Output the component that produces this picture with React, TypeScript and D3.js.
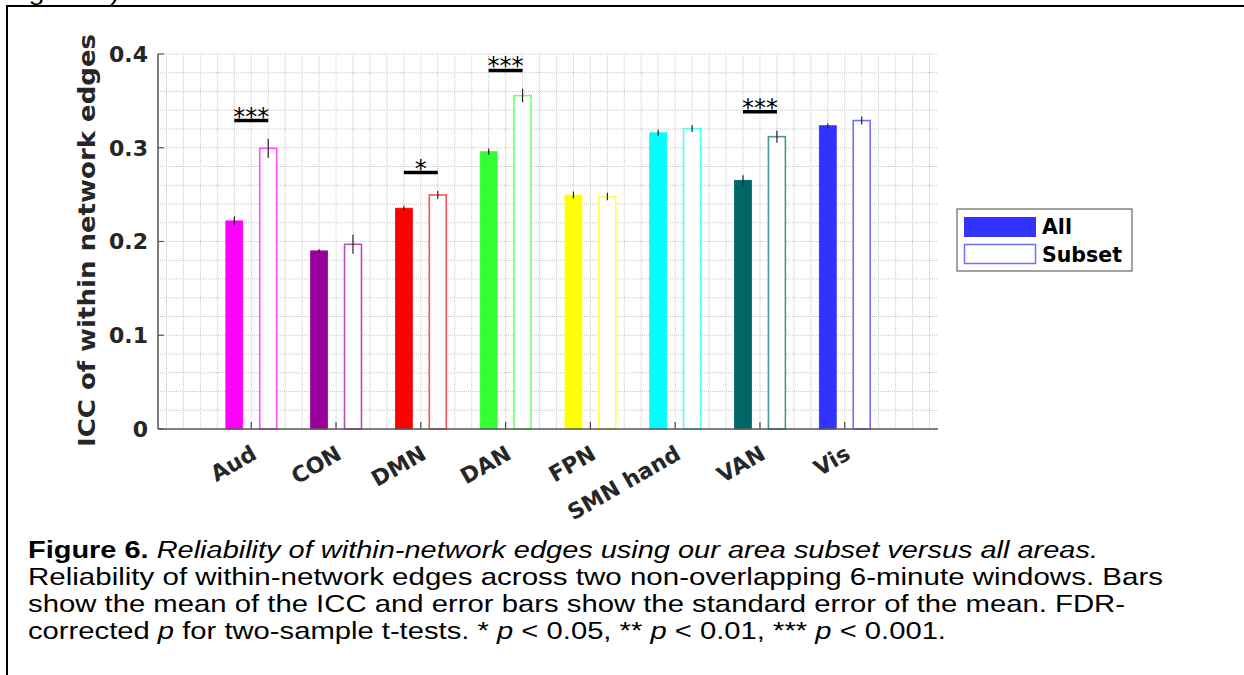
import React from "react";
import * as d3 from "d3";

const categories = ["Aud", "CON", "DMN", "DAN", "FPN", "SMN hand", "VAN", "Vis"];
const allMeans = [0.222, 0.19, 0.2355, 0.2958, 0.2496, 0.316, 0.2653, 0.3235];
const allSem = [0.0048, 0.0017, 0.0027, 0.0032, 0.0037, 0.0032, 0.0053, 0.0027];
const subsetMeans = [0.2994, 0.197, 0.2496, 0.3556, 0.248, 0.3204, 0.3118, 0.329];
const subsetSem = [0.0103, 0.0101, 0.0043, 0.0071, 0.004, 0.0037, 0.0064, 0.0043];
const colors = ["#ff00ff", "#990099", "#ff0000", "#33ff33", "#ffff00", "#00ffff", "#006666", "#3333ff"];
const sigCats = ["Aud", "DMN", "DAN", "VAN"];
const sigHeights = [0.329, 0.2735, 0.3825, 0.3385];
const sigLabels = ["***", "*", "***", "***"];
const yTicks = [0, 0.1, 0.2, 0.3, 0.4];
const legendLabels = ["All", "Subset"];

const W = 1244;
const H = 675;

export default function App() {
  const x = d3.scaleLinear().domain([-0.1, 9.1]).range([158, 938]);
  const y = d3.scaleLinear().domain([0, 0.4]).range([429, 54]);
  const pos = (i: number) => i + 1;
  const barW = x(0.2) - x(0);

  const vGrid = d3.range(0, 9.0001, 0.2);
  const hGrid = d3.range(0.02, 0.40001, 0.02);
  const tickFont = "'DejaVu Sans', sans-serif";
  const capFont = "'Liberation Sans', Arial, sans-serif";

  const mix = (c: string) => d3.interpolateRgb(c, "#ffffff")(0.3);
  const sx = 1.2;

  return (
    <svg width={W} height={H} style={{ position: "absolute", left: 0, top: 0, background: "#fff" }}>
      <rect x={0} y={0} width={W} height={H} fill="#fff" />
      {/* frame */}
      <g transform={`translate(22,0) scale(${sx},1)`}>
        <text x={0} y={0} fontFamily={capFont} fontSize={24} fill="#000">igure 6)</text>
      </g>
      <path d={`M7,${H} V6 H${W}`} fill="none" stroke="#000" strokeWidth={2} />

      {/* grid */}
      <g stroke="#c8c8c8" strokeWidth={1} strokeDasharray="1 1">
        {vGrid.map((v, i) => (
          <line key={"v" + i} x1={x(v)} x2={x(v)} y1={y(0.4)} y2={y(0)} />
        ))}
        {hGrid.map((v, i) => (
          <line key={"h" + i} x1={x(-0.1)} x2={x(9.1)} y1={y(v)} y2={y(v)} />
        ))}
      </g>

      {/* bars */}
      {categories.map((c, i) => {
        const cx = x(pos(i));
        const xa = x(pos(i) - 0.3);
        const xs = x(pos(i) + 0.1);
        return (
          <g key={c}>
            <rect x={xa} y={y(allMeans[i])} width={barW} height={y(0) - y(allMeans[i])}
              fill={colors[i]} stroke={colors[i]} strokeWidth={0.8} />
            <rect x={xs} y={y(subsetMeans[i])} width={barW} height={y(0) - y(subsetMeans[i])}
              fill="#fff" stroke={mix(colors[i])} strokeWidth={1.6} />
            <line x1={xa + barW / 2} x2={xa + barW / 2} y1={y(allMeans[i] - allSem[i])}
              y2={y(allMeans[i] + allSem[i])} stroke="#222" strokeWidth={1.2} />
            <line x1={xs + barW / 2} x2={xs + barW / 2} y1={y(subsetMeans[i] - subsetSem[i])}
              y2={y(subsetMeans[i] + subsetSem[i])} stroke="#222" strokeWidth={1.2} />
            <line x1={cx} x2={cx} y1={y(0)} y2={y(0) - 7} stroke="#444" strokeWidth={1.2} />
          </g>
        );
      })}

      {/* significance */}
      {sigCats.map((c, k) => {
        const i = categories.indexOf(c);
        const x1 = x(pos(i) - 0.2);
        const x2 = x(pos(i) + 0.2);
        const yy = y(sigHeights[k]);
        return (
          <g key={"s" + c}>
            <line x1={x1} x2={x2} y1={yy} y2={yy} stroke="#000" strokeWidth={3.5} />
            <text x={(x1 + x2) / 2} y={yy + 4} textAnchor="middle" fontFamily={tickFont}
              fontSize={24} fill="#000">{sigLabels[k]}</text>
          </g>
        );
      })}

      {/* axes */}
      <line x1={x(-0.1)} x2={x(9.1)} y1={y(0)} y2={y(0)} stroke="#555" strokeWidth={1.5} />
      <line x1={x(-0.1)} x2={x(-0.1)} y1={y(0)} y2={y(0.4)} stroke="#555" strokeWidth={1.5} />
      {yTicks.map((t) => (
        <g key={"yt" + t}>
          <line x1={x(-0.1)} x2={x(-0.1) + 6} y1={y(t)} y2={y(t)} stroke="#555" strokeWidth={1.2} />
          <text x={x(-0.1) - 10} y={y(t)} dy="0.36em" textAnchor="end" fontFamily={tickFont}
            fontWeight="bold" fontSize={22} fill="#262626">{t === 0 ? "0" : t.toFixed(1)}</text>
        </g>
      ))}
      {categories.map((c, i) => (
        <text key={"xl" + c} transform={`translate(${x(pos(i)) + 7},458) rotate(-30)`}
          textAnchor="end" fontFamily={tickFont} fontWeight="bold" fontSize={22} fill="#262626">{c}</text>
      ))}
      <text transform={`translate(95,240.5) rotate(-90)`} textAnchor="middle" fontFamily={tickFont}
        fontWeight="bold" fontSize={23} fill="#262626" textLength={413}
        lengthAdjust="spacingAndGlyphs">ICC of within network edges</text>

      {/* legend */}
      <rect x={957} y={209} width={175} height={62} fill="#fff" stroke="#666" strokeWidth={1.2} />
      <rect x={964} y={217} width={72} height={20} fill={colors[7]} />
      <rect x={964.5} y={244.5} width={71} height={19} fill="#fff" stroke={mix(colors[7])} strokeWidth={1.5} />
      <text x={1042} y={234} fontFamily={tickFont} fontWeight="bold" fontSize={20.5} fill="#000">{legendLabels[0]}</text>
      <text x={1042} y={262} fontFamily={tickFont} fontWeight="bold" fontSize={20.5} fill="#000">{legendLabels[1]}</text>

      {/* caption */}
      <g fontFamily={capFont} fontSize={24} fill="#000" transform={`translate(28,0) scale(${sx},1)`}>
        <text x={0} y={558} textLength={(1098 - 28) / sx} lengthAdjust="spacingAndGlyphs">
          <tspan fontWeight="bold">Figure 6.</tspan>
          <tspan fontStyle="italic"> Reliability of within-network edges using our area subset versus all areas.</tspan>
        </text>
        <text x={0} y={585} textLength={(1163 - 28) / sx} lengthAdjust="spacingAndGlyphs">Reliability of within-network edges across two non-overlapping 6-minute windows. Bars</text>
        <text x={0} y={612} textLength={(1125 - 28) / sx} lengthAdjust="spacingAndGlyphs">show the mean of the ICC and error bars show the standard error of the mean. FDR-</text>
        <text x={0} y={639} textLength={(946 - 28) / sx} lengthAdjust="spacingAndGlyphs">
          corrected <tspan fontStyle="italic">p</tspan> for two-sample t-tests. * <tspan fontStyle="italic">p</tspan> &lt; 0.05, ** <tspan fontStyle="italic">p</tspan> &lt; 0.01, *** <tspan fontStyle="italic">p</tspan> &lt; 0.001.
        </text>
      </g>
    </svg>
  );
}
